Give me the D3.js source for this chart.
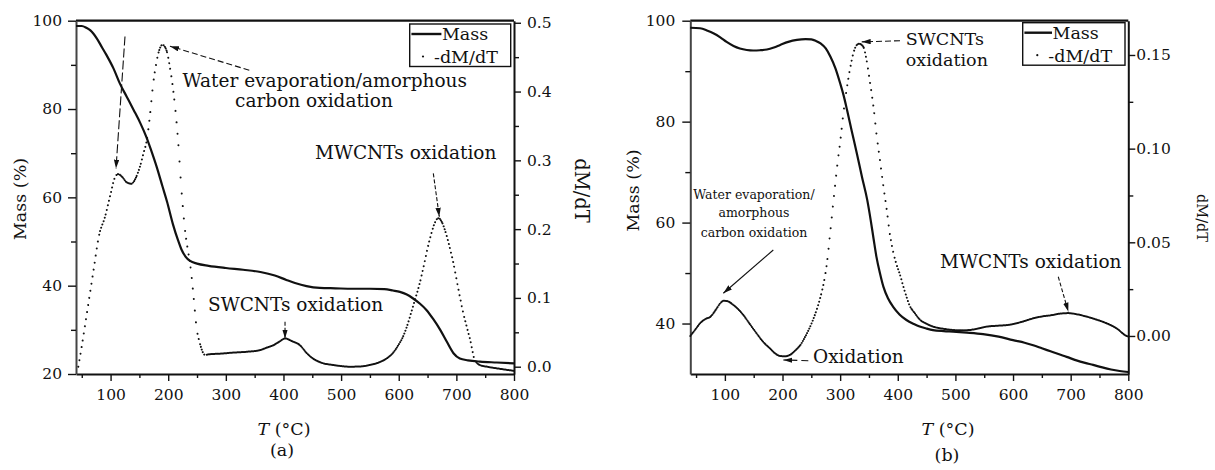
<!DOCTYPE html>
<html><head><meta charset="utf-8">
<script src="https://cdn.jsdelivr.net/npm/d3@7"></script>
<style>
body{margin:0;background:#fff}
svg{display:block}
text{font-family:"DejaVu Serif",serif;fill:#111}
</style>
</head><body>
<svg id="c" width="1215" height="470"></svg>
<script>
// ---------- data ----------
const xDomain = [40, 800];
const xTicks = [100, 200, 300, 400, 500, 600, 700, 800];
const xMinorTicks = [50, 150, 250, 350, 450, 550, 650, 750];

// panel (a)
const massA_T = [40,50,58,65,70,76,85,93,105,116,128,140,152,162,170,180,190,198,208,217,223,230,238,250,270,300,330,360,385,405,420,440,463,490,520,550,575,590,602,614,625,637,648,660,672,683,695,706,720,741,770,800];
const massA   = [98.8,98.8,98.4,97.8,97.1,96.0,94.0,92.2,89.2,85.8,82.8,79.8,76.7,73.7,70.8,66.9,62.5,59.0,54.0,50.3,48.2,46.6,45.6,45.0,44.5,44.0,43.6,43.1,42.3,41.3,40.6,39.9,39.5,39.4,39.3,39.3,39.2,38.9,38.6,38.0,37.1,35.9,34.5,32.4,30.0,27.4,24.7,23.5,23.1,22.8,22.6,22.4];
const dmA_T = [44,50,60,70,80,90,100,107,113,120,128,136,144,151,157,163,168,174,179,183,190,197,203,209,217,223,229,234,238,244,249,255,264,270,290,313,340,359,372,382,392,403,415,429,440,451,465,486,500,515,535,550,565,579,590,599,607,614,621,628,636,643,650,657,663,669,675,680,688,695,703,712,718,724,732,742,753,775,800];
const dmA   = [0.0,0.03,0.084,0.138,0.191,0.217,0.251,0.274,0.28,0.276,0.268,0.266,0.275,0.291,0.31,0.33,0.363,0.412,0.44,0.456,0.468,0.46,0.435,0.40,0.33,0.257,0.20,0.17,0.15,0.102,0.058,0.034,0.017,0.018,0.019,0.0205,0.022,0.024,0.028,0.031,0.036,0.041,0.037,0.031,0.02,0.012,0.006,0.0025,0.001,0.0,0.0005,0.0025,0.006,0.012,0.02,0.031,0.043,0.058,0.077,0.097,0.12,0.145,0.172,0.195,0.21,0.216,0.21,0.199,0.175,0.15,0.115,0.078,0.058,0.039,0.0097,0.002,0.0,-0.003,-0.006];
const massTicksA = [20, 40, 60, 80, 100];
const massMinorA = [30, 50, 70, 90];
const dmTicksA = [0, 0.1, 0.2, 0.3, 0.4, 0.5];
const dmMinorA = [0.05, 0.15, 0.25, 0.35, 0.45];

// panel (b)
const massB_T = [40,57,70,80,92,103,115,126,138,149,161,173,185,196,210,225,240,250,258,266,275,283,292,300,306,312,320,329,338,347,353,358,363,369,375,383,392,403,415,428,438,450,461,480,496,520,548,575,600,620,635,650,665,680,693,710,725,739,755,770,785,800];
const massB   = [98.6,98.5,98.0,97.5,96.7,95.8,95.0,94.5,94.2,94.1,94.15,94.3,94.7,95.2,95.8,96.2,96.35,96.3,96.0,95.5,94.5,92.9,90.5,87.6,85.2,82.3,78.2,73.7,69.0,64.5,60.5,56.8,53.2,50.0,47.3,45.0,43.3,41.8,40.7,39.9,39.4,39.0,38.7,38.5,38.4,38.2,37.9,37.4,36.7,36.2,35.7,35.1,34.5,33.9,33.4,32.7,32.2,31.8,31.3,30.9,30.6,30.4];
const dmB_T = [40,50,57,66,75,86,92,98,105,115,124,132,143,155,166,178,188,196,205,213,222,231,240,248,257,266,272,277,283,289,295,301,306,312,318,323,328,333,340,346,352,358,363,369,375,381,386,392,398,403,412,421,430,438,450,461,480,496,510,525,540,554,575,594,615,635,652,669,683,696,712,728,745,762,780,797,800];
const dmB   = [0.0,0.004,0.0068,0.009,0.0103,0.0148,0.0175,0.0188,0.0185,0.0165,0.014,0.0112,0.0065,0.0014,-0.003,-0.0066,-0.0095,-0.0107,-0.0108,-0.0101,-0.0078,-0.0048,0.0,0.005,0.012,0.021,0.029,0.0388,0.056,0.074,0.091,0.106,0.12,0.133,0.144,0.151,0.155,0.156,0.1545,0.147,0.135,0.122,0.108,0.094,0.080,0.067,0.055,0.045,0.038,0.0335,0.024,0.016,0.012,0.0088,0.0065,0.005,0.0038,0.0032,0.003,0.0032,0.004,0.005,0.0055,0.006,0.0075,0.0094,0.0105,0.0112,0.012,0.0122,0.0115,0.0103,0.0087,0.0068,0.004,0.0,-0.0003];
const massTicksB = [40, 60, 80, 100];
const massMinorB = [50, 70, 90];
const dmTicksB = [0, 0.05, 0.10, 0.15];
const dmMinorB = [0.025, 0.075, 0.125];

const legendLabels = ["Mass", "-dM/dT"];

// ---------- drawing ----------
const svg = d3.select('#c');
const INK = '#111';
const Y0 = 20.7, Y1 = 374;

const defs = svg.append('defs');
defs.append('marker').attr('id','ah').attr('viewBox','0 0 10 6')
  .attr('refX',10).attr('refY',3).attr('markerWidth',9).attr('markerHeight',5.5)
  .attr('markerUnits','userSpaceOnUse').attr('orient','auto')
  .append('path').attr('d','M0,0L10,3L0,6Z').attr('fill',INK);

function styleAxis(sel, size, domainColor){
  sel.attr('font-family','DejaVu Serif').attr('font-size',size);
  sel.selectAll('text').attr('fill',INK);
  sel.select('.domain').attr('stroke',domainColor||INK).attr('stroke-width',2);
  sel.selectAll('.tick line').attr('stroke',INK).attr('stroke-width',1.4);
}
function minor(sel){ sel.select('.domain').remove(); sel.selectAll('.tick line').attr('stroke',INK).attr('stroke-width',1.4); }

function dotDash(node, xs, step){
  const total = node.getTotalLength();
  const Ls = xs.map(xv => {
    let lo = 0, hi = total;
    for (let k = 0; k < 28; k++){ const mid = (lo+hi)/2; if (node.getPointAtLength(mid).x < xv) lo = mid; else hi = mid; }
    return (lo+hi)/2;
  });
  Ls[0] = 0; Ls[Ls.length-1] = total;
  const arr = []; let pos = 0, seg = 0;
  while (pos < total){
    while (seg < Ls.length-2 && pos >= Ls[seg+1]) seg++;
    const segL = Ls[seg+1]-Ls[seg], segX = xs[seg+1]-xs[seg];
    let sp = segX > 0 ? segL/(segX/step) : step;
    sp = Math.max(sp, 0.7);
    arr.push(0.001, (sp-0.001).toFixed(3));
    pos += sp;
  }
  return arr.join(' ');
}

function panel(cfg){
  const g = svg.append('g');
  const x = d3.scaleLinear().domain(xDomain).range([cfg.x0, cfg.x1]);
  const yM = d3.scaleLinear().domain(cfg.massDomain).range([Y1, Y0]);
  const yD = d3.scaleLinear().domain(cfg.dmDomain).range([Y1, Y0]);

  // top frame line
  g.append('line').attr('x1',cfg.x0).attr('x2',cfg.x1).attr('y1',Y0).attr('y2',Y0)
    .attr('stroke',INK).attr('stroke-width',2.2);

  // bottom axis
  g.append('g').attr('transform',`translate(0,${Y1})`)
    .call(d3.axisBottom(x).tickValues(xTicks).tickSize(7).tickSizeOuter(0).tickPadding(8).tickFormat(d3.format('d')))
    .call(s => styleAxis(s, 15.5));
  g.append('g').attr('transform',`translate(0,${Y1})`)
    .call(d3.axisBottom(x).tickValues(xMinorTicks).tickSize(4).tickFormat(''))
    .call(minor);

  // left axis
  g.append('g').attr('transform',`translate(${cfg.x0},0)`)
    .call(d3.axisLeft(yM).tickValues(cfg.massTicks).tickSize(8).tickSizeOuter(0).tickPadding(cfg.leftPad).tickFormat(d3.format('d')))
    .call(s => styleAxis(s, 15.5, '#444'));
  g.append('g').attr('transform',`translate(${cfg.x0},0)`)
    .call(d3.axisLeft(yM).tickValues(cfg.massMinor).tickSize(5).tickFormat(''))
    .call(minor);

  // right axis
  g.append('g').attr('transform',`translate(${cfg.x1},0)`)
    .call(d3.axisRight(yD).tickValues(cfg.dmTicks).tickSize(7).tickSizeOuter(0).tickPadding(cfg.rightPad).tickFormat(d3.format(cfg.dmFmt)))
    .call(s => styleAxis(s, 15.5));
  g.append('g').attr('transform',`translate(${cfg.x1},0)`)
    .call(d3.axisRight(yD).tickValues(cfg.dmMinor).tickSize(5).tickFormat(''))
    .call(minor);

  // mass curve
  const lineM = d3.line().x((d,i) => x(cfg.massT[i])).y(d => yM(d)).curve(d3.curveMonotoneX);
  g.append('path').attr('d', lineM(cfg.mass)).attr('fill','none')
    .attr('stroke',INK).attr('stroke-width',2.2).attr('stroke-linejoin','round');

  // -dM/dT dotted curve
  const lineD = d3.line().x((d,i) => x(cfg.dmT[i])).y(d => yD(d)).curve(d3.curveMonotoneX);
  const p = g.append('path').attr('d', lineD(cfg.dm)).attr('fill','none')
    .attr('stroke',INK).attr('stroke-width',2).attr('stroke-linecap','round');
  p.attr('stroke-dasharray', dotDash(p.node(), cfg.dmT.map(t => x(t)), 1.1));

  // annotations (positions given in data units of T and -dM/dT)
  cfg.notes.forEach(n => {
    if (n.arrow){
      g.append('line').attr('x1',x(n.arrow[0])).attr('y1',yD(n.arrow[1]))
        .attr('x2',x(n.arrow[2])).attr('y2',yD(n.arrow[3]))
        .attr('stroke',INK).attr('stroke-width',1.1)
        .attr('stroke-dasharray',n.dash||null).attr('marker-end','url(#ah)');
    } else {
      const t = g.append('text').attr('text-anchor',n.anchor||'start').attr('font-size',n.size||18.5);
      n.lines.forEach(l => {
        t.append('tspan').attr('x',x(l[0])).attr('y',yD(l[1])).text(l[2]);
      });
    }
  });

  // legend
  const lx = cfg.x1 - cfg.legW - 3.3, ly = Y0 + cfg.legTop;
  const lg = g.append('g').attr('transform',`translate(${lx},${ly})`);
  lg.append('rect').attr('width',cfg.legW).attr('height',42.5).attr('fill','#fff')
    .attr('stroke',INK).attr('stroke-width',1.4);
  lg.append('line').attr('x1',1.7).attr('x2',cfg.legLine).attr('y1',10).attr('y2',10)
    .attr('stroke',INK).attr('stroke-width',2.4);
  lg.append('text').attr('x',cfg.legLine+0.5).attr('y',16).attr('font-size',17.5).text(legendLabels[0]);
  lg.append('circle').attr('cx',cfg.legDot).attr('cy',32.5).attr('r',1.1).attr('fill',INK);
  lg.append('text').attr('x',cfg.legDot+11).attr('y',39).attr('font-size',17.5).text(legendLabels[1]);

  // axis titles
  g.append('text').attr('transform',`translate(${cfg.mTitle[0]},${cfg.mTitle[1]}) rotate(-90)`)
    .attr('text-anchor','middle').attr('dominant-baseline','central').attr('font-size',17.5).text('Mass (%)');
  g.append('text').attr('transform',`translate(${cfg.dTitle[0]},${cfg.dTitle[1]}) rotate(90)`)
    .attr('text-anchor','middle').attr('dominant-baseline','central').attr('font-size',cfg.dTitle[2]).text('dM/dT');
  const tt = g.append('text').attr('x',cfg.tTitle).attr('y',435).attr('text-anchor','middle').attr('font-size',17.5);
  tt.append('tspan').attr('font-style','italic').text('T');
  tt.append('tspan').text(' (°C)');
  g.append('text').attr('x',cfg.tag[0]).attr('y',cfg.tag[1]).attr('text-anchor','middle')
    .attr('font-size',17.5).text(cfg.tag[2]);
}

panel({
  x0: 76, x1: 514,
  massDomain: [20, 100], dmDomain: [-0.0106, 0.503],
  massT: massA_T, mass: massA, dmT: dmA_T, dm: dmA,
  massTicks: massTicksA, massMinor: massMinorA,
  dmTicks: dmTicksA, dmMinor: dmMinorA, dmFmt: '.1f',
  leftPad: 6, rightPad: 6,
  legW: 101, legTop: 3.3, legLine: 31.7, legDot: 13.3,
  mTitle: [20, 199], dTitle: [581.7, 190.5, 19.5],
  tTitle: 284, tag: [282, 456, '(a)'],
  notes: [
    {arrow: [125, 0.480, 109.4, 0.288], dash: '9,3'},
    {arrow: [340.7, 0.431, 203, 0.466], dash: '6,3'},
    {lines: [[225, 0.4065, 'Water evaporation/amorphous'], [316, 0.377, 'carbon oxidation']]},
    {lines: [[454.7, 0.3015, 'MWCNTs oxidation']]},
    {arrow: [660, 0.281, 670.4, 0.218], dash: '4,2'},
    {lines: [[269, 0.081, 'SWCNTs oxidation']]},
    {arrow: [402.7, 0.0654, 402.7, 0.041], dash: '4,2'}
  ]
});

panel({
  x0: 690.3, x1: 1128.3,
  massDomain: [30, 100], dmDomain: [-0.0203, 0.1683],
  massT: massB_T, mass: massB, dmT: dmB_T, dm: dmB,
  massTicks: massTicksB, massMinor: massMinorB,
  dmTicks: dmTicksB, dmMinor: dmMinorB, dmFmt: '.2f',
  leftPad: 7, rightPad: 1,
  legW: 102.3, legTop: 2, legLine: 29.3, legDot: 14.6,
  mTitle: [633.3, 190.5], dTitle: [1201.7, 218, 14.5],
  tTitle: 948, tag: [947, 461, '(b)'],
  notes: [
    {anchor: 'middle', size: 12.5, lines: [
      [150.5, 0.0731, 'Water evaporation/'],
      [150.5, 0.0635, 'amorphous'],
      [150.5, 0.0528, 'carbon oxidation']]},
    {arrow: [184, 0.0459, 97.3, 0.0228]},
    {size: 17.5, lines: [[414, 0.1553, 'SWCNTs'], [414, 0.1441, 'oxidation']]},
    {arrow: [403.9, 0.1576, 337.4, 0.157], dash: '6,3'},
    {lines: [[252.9, -0.0144, 'Oxidation']]},
    {arrow: [244.8, -0.0132, 201.4, -0.0128], dash: '7,4'},
    {lines: [[473.3, 0.0361, 'MWCNTs oxidation']]},
    {arrow: [678.5, 0.0316, 695.9, 0.013], dash: '4,2'}
  ]
});
</script>
</body></html>
